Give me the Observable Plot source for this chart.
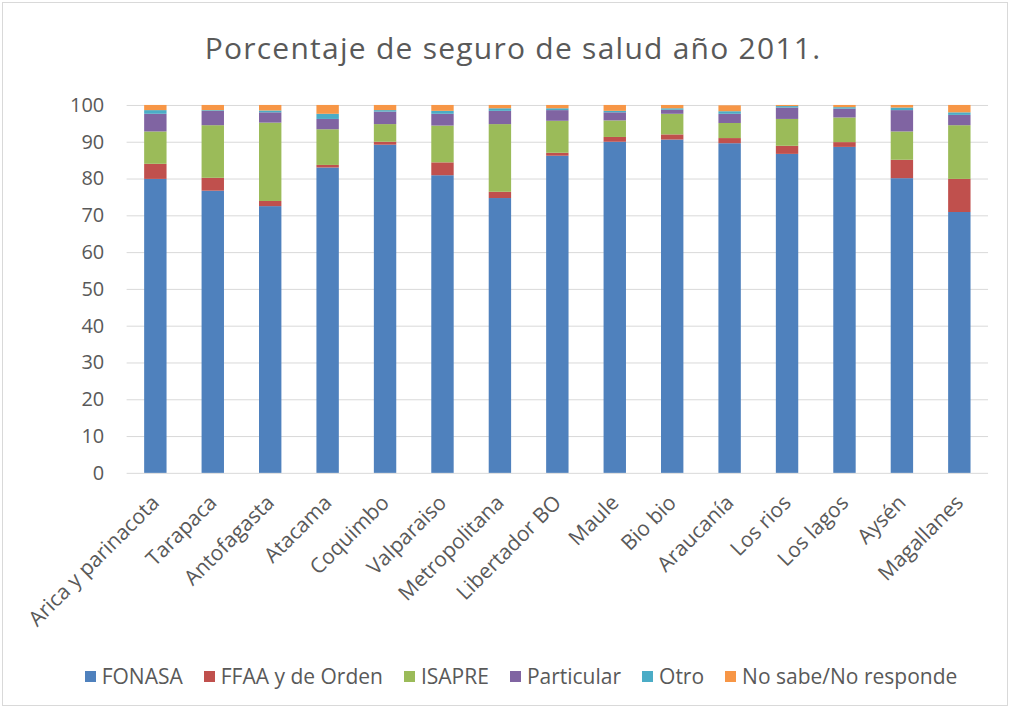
<!DOCTYPE html>
<html>
<head>
<meta charset="utf-8">
<script src="https://cdn.jsdelivr.net/npm/d3@7"></script>
<script src="https://cdn.jsdelivr.net/npm/@observablehq/plot@0.6"></script>
<style>
  html, body { margin: 0; padding: 0; background: #fff; }
  #frame { position: relative; width: 1006px; height: 704px; margin: 2px; border: 1px solid #d9d9d9; box-sizing: border-box; font-family: "Open Sans", sans-serif; overflow: hidden; }
  #title { position: absolute; left: 8px; top: 24px; width: 100%; text-align: center; font-size: 30px; letter-spacing: 1.25px; color: #595959; }
  #chart { position: absolute; left: -3px; top: 88px; }
  #legend { position: absolute; left: 16px; top: 659px; width: 100%; display: flex; justify-content: center; gap: 21px; font-size: 21px; color: #595959; }
  .item { display: flex; align-items: center; gap: 6px; }
  .sw { width: 11px; height: 11px; display: inline-block; }
</style>
</head>
<body>
<div id="frame">
  <div id="title">Porcentaje de seguro de salud año 2011.</div>
  <div id="chart"></div>
  <div id="legend"></div>
</div>
<script>
const regions = ["Arica y parinacota","Tarapaca","Antofagasta","Atacama","Coquimbo","Valparaiso","Metropolitana","Libertador BO","Maule","Bio bio","Araucanía","Los rios","Los lagos","Aysén","Magallanes"];
const seriesNames = ["FONASA","FFAA y de Orden","ISAPRE","Particular","Otro","No sabe/No responde"];
const seriesColors = ["#4F81BD","#C0504D","#9BBB59","#8064A2","#4BACC6","#F79646"];
const fonasa     = [79.9, 76.7, 72.5, 83.0, 89.2, 80.9, 74.7, 86.2, 90.0, 90.6, 89.6, 86.7, 88.6, 80.1, 70.9];
const ffaa       = [ 4.1,  3.5,  1.4,  0.7,  0.8,  3.5,  1.7,  0.8,  1.3,  1.4,  1.4,  2.2,  1.3,  5.0,  9.0];
const isapre     = [ 8.8, 14.3, 21.3,  9.7,  4.8, 10.0, 18.4,  8.7,  4.5,  5.6,  4.1,  7.3,  6.7,  7.7, 14.6];
const particular = [ 4.8,  3.9,  2.8,  2.8,  3.4,  3.2,  3.6,  2.9,  2.2,  1.1,  2.5,  3.1,  2.4,  5.8,  2.8];
const otro       = [ 1.0,  0.2,  0.5,  1.4,  0.4,  0.8,  0.7,  0.5,  0.4,  0.4,  0.7,  0.4,  0.4,  0.7,  0.7];
const noSabe     = [ 1.4,  1.4,  1.5,  2.4,  1.4,  1.6,  0.9,  0.9,  1.6,  0.9,  1.6,  0.3,  0.6,  0.7,  2.0];
const yTicks = [0,10,20,30,40,50,60,70,80,90,100];

const seriesValues = [fonasa, ffaa, isapre, particular, otro, noSabe];
const data = [];
regions.forEach((r, i) => {
  seriesNames.forEach((s, j) => data.push({region: r, series: s, value: seriesValues[j][i]}));
});

const chart = Plot.plot({
  width: 1010,
  height: 548,
  marginTop: 14,
  marginLeft: 127,
  marginRight: 19,
  marginBottom: 165,
  style: {fontFamily: "Open Sans, sans-serif", color: "#595959", background: "transparent"},
  x: {domain: regions, paddingInner: 0.61, paddingOuter: 0.305, round: false, label: null},
  y: {domain: [0, 100], label: null},
  color: {domain: seriesNames, range: seriesColors},
  marks: [
    Plot.ruleY(yTicks, {stroke: "#d9d9d9", strokeWidth: 1}),
    Plot.barY(data, Plot.stackY({x: "region", y: "value", fill: "series"})),
    Plot.axisY(yTicks, {tickSize: 0, tickPadding: 23, fontSize: 20, fill: "#595959", label: null}),
    Plot.axisX({tickSize: 0, tickRotate: -45, tickPadding: 26, fontSize: 21, fill: "#595959", label: null})
  ]
});
document.getElementById("chart").appendChild(chart);

const legend = document.getElementById("legend");
seriesNames.forEach((s, j) => {
  const it = document.createElement("div");
  it.className = "item";
  const sw = document.createElement("span");
  sw.className = "sw";
  sw.style.background = seriesColors[j];
  it.appendChild(sw);
  const t = document.createElement("span");
  t.textContent = s;
  it.appendChild(t);
  legend.appendChild(it);
});
</script>
</body>
</html>
